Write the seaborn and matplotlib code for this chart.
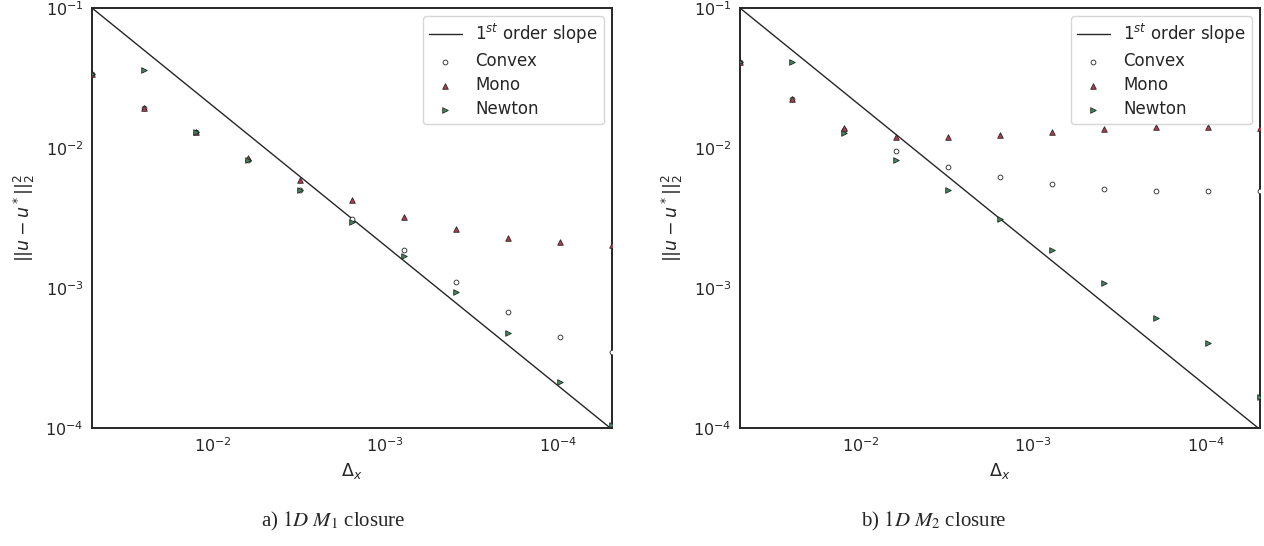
import matplotlib
matplotlib.use("Agg")
import matplotlib.pyplot as plt
import numpy as np
import pandas as pd
import seaborn as sns

# Grid spacing for the refinement study (halved at each level)
dx = [0.05, 0.025, 0.0125, 0.00625, 0.003125, 0.0015625, 0.00078125,
      0.000390625, 0.0001953125, 9.765625e-05, 4.8828125e-05]

# 1D M1 closure errors
m1_convex = [0.034, 0.0193, 0.0130, 0.0082, 0.0050, 0.00311, 0.00187,
             0.00110, 0.000674, 0.000447, 0.000349]
m1_mono = [0.034, 0.0193, 0.0130, 0.0085, 0.0059, 0.00425, 0.00321,
           0.00264, 0.00228, 0.00213, 0.00203]
m1_newton = [0.034, 0.036, 0.0130, 0.0082, 0.0050, 0.00296, 0.00169,
             0.000936, 0.000477, 0.000213, 0.000105]

# 1D M2 closure errors
m2_convex = [0.0411, 0.0224, 0.0135, 0.0095, 0.0073, 0.0062, 0.00553,
             0.0051, 0.00493, 0.00493, 0.0049]
m2_mono = [0.0411, 0.0224, 0.0139, 0.0120, 0.0120, 0.0124, 0.0130,
           0.0137, 0.0141, 0.0141, 0.0138]
m2_newton = [0.0411, 0.0411, 0.0128, 0.0082, 0.0050, 0.0031, 0.00187,
             0.00109, 0.00061, 0.000405, 0.000166]

methods = ["Convex", "Mono", "Newton"]
captions = [r"a) $1D\ M_1$ closure", r"b) $1D\ M_2$ closure"]

sns.set_theme(style="white", font_scale=1.0)
plt.rcParams["font.family"] = ["DejaVu Sans"]
plt.rcParams["mathtext.fontset"] = "dejavusans"

palette = {"Convex": "white", "Mono": "#b8394a", "Newton": "#3b8a5a"}
markers = {"Convex": "o", "Mono": "^", "Newton": ">"}
sizes = {"Convex": 12, "Mono": 16, "Newton": 16}

fig = plt.figure(figsize=(12.64, 5.46), dpi=100)
ax_left = fig.add_axes([0.0728, 0.2161, 0.4114, 0.7692])
ax_right = fig.add_axes([0.5854, 0.2161, 0.4114, 0.7692])

panels = [
    (ax_left, {"Convex": m1_convex, "Mono": m1_mono, "Newton": m1_newton}),
    (ax_right, {"Convex": m2_convex, "Mono": m2_mono, "Newton": m2_newton}),
]

dx_arr = np.array(dx)
for i, (ax, series) in enumerate(panels):
    # first-order reference line through (0.05, 0.1)
    ref = pd.DataFrame({"dx": dx_arr, "err": 2.0 * dx_arr})
    sns.lineplot(data=ref, x="dx", y="err", ax=ax, color="#262626",
                 linewidth=1.0, label=r"$1^{st}$ order slope")
    for m in methods:
        df = pd.DataFrame({"dx": dx, "err": series[m]})
        sns.scatterplot(data=df, x="dx", y="err", ax=ax, marker=markers[m],
                        s=sizes[m], color=palette[m], edgecolor="#262626",
                        linewidth=0.6, label=m, zorder=3)
    ax.set_xscale("log")
    ax.set_yscale("log")
    ax.set_xlim(dx[0], dx[-1])
    ax.set_ylim(1e-4, 1e-1)
    ax.set_xticks([1e-2, 1e-3, 1e-4])
    ax.set_yticks([1e-4, 1e-3, 1e-2, 1e-1])
    ax.minorticks_off()
    ax.tick_params(labelsize=11.5, length=0, pad=6)
    ax.set_xlabel(r"$\Delta_x$", fontsize=12.5)
    ax.set_ylabel(r"$||u-u^*||_2^2$", fontsize=12.5, labelpad=6)
    for sp in ax.spines.values():
        sp.set_color("#262626")
        sp.set_linewidth(1.4)
    ax.legend(loc="upper right", fontsize=12, frameon=True,
              handlelength=2.0, borderaxespad=0.5, labelspacing=0.36,
              borderpad=0.35, markerscale=1.0)

fig.text(0.2635, 0.045, captions[0], fontsize=15, ha="center", va="center",
         family="Liberation Serif", math_fontfamily="stix")
fig.text(0.7390, 0.045, captions[1], fontsize=15, ha="center", va="center",
         family="Liberation Serif", math_fontfamily="stix")

fig.savefig("out.png", dpi=100)
